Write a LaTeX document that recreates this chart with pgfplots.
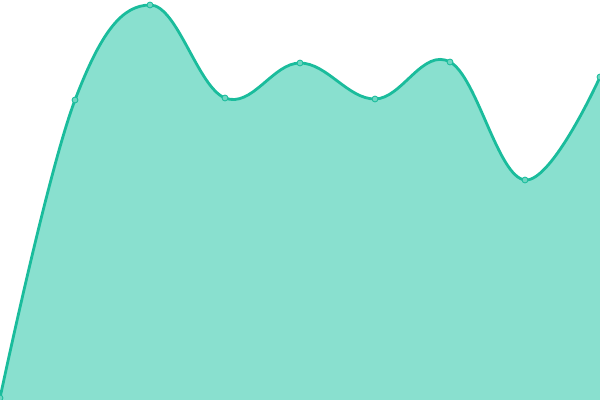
\documentclass[border=0pt]{standalone}
\usepackage{pgfplots}
\pgfplotsset{compat=1.18}
\definecolor{teal1}{RGB}{26,188,156}
\definecolor{tealfill}{RGB}{137,224,207}
\definecolor{tealmark}{RGB}{110,214,193}
\begin{document}
\begin{tikzpicture}
\begin{axis}[
  scale only axis,
  width=15cm, height=10cm,
  xmin=0, xmax=600, ymin=0, ymax=400,
  hide axis,
]
\addplot[draw=none, fill=tealfill, smooth, tension=0.65] coordinates {
  (0,2) (75,300) (150,395) (225,302) (300,337) (375,301) (450,338) (525,220) (600,323)
} \closedcycle;
\addplot[teal1, line width=2pt, smooth, tension=0.65,
  mark=*, mark size=2.1pt, mark options={fill=tealmark, draw=teal1, line width=0.6pt}] coordinates {
  (0,2) (75,300) (150,395) (225,302) (300,337) (375,301) (450,338) (525,220) (600,323)
};
\end{axis}
\pgfresetboundingbox
\useasboundingbox (current axis.south west) rectangle (current axis.north east);
\end{tikzpicture}
\end{document}
